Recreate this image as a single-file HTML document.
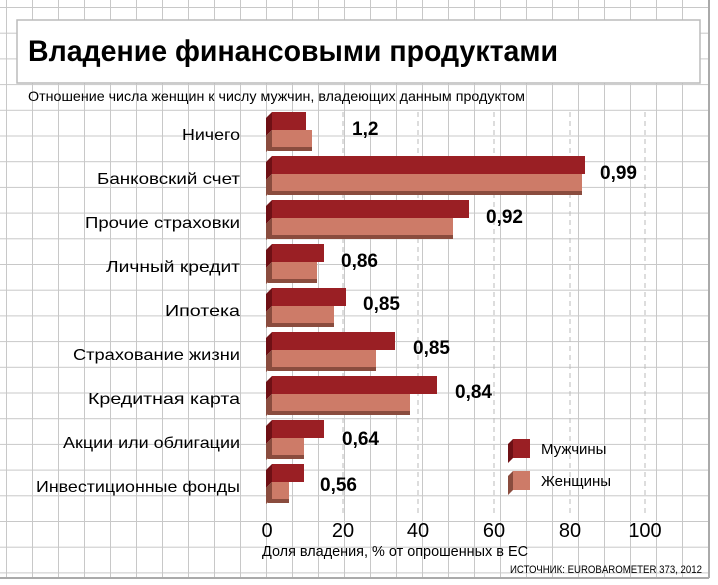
<!DOCTYPE html>
<html><head><meta charset="utf-8"><style>
body{margin:0;background:#fff}
svg{display:block}
</style></head><body>
<svg width="718" height="585" viewBox="0 0 718 585" xmlns="http://www.w3.org/2000/svg" font-family="Liberation Sans, sans-serif">
<defs>
<pattern id="g" x="6" y="7" width="26" height="25.7" patternUnits="userSpaceOnUse">
<path d="M0 0V25.7M0 0H26" stroke="#c8c8c8" stroke-width="2" fill="none"/>
</pattern>
<g id="mside"><polygon points="266,5 272,-1 272,17 266,23" fill="#6e1015"/></g>
<g id="wside"><polygon points="266,23 272,17 272,34 266,39" fill="#8a4c3e"/></g>
</defs>
<rect x="0" y="0" width="709" height="578" fill="url(#g)"/>
<line x1="709" y1="0" x2="709" y2="578" stroke="#aaa" stroke-width="2"/>
<line x1="0" y1="578" x2="709" y2="578" stroke="#aaa" stroke-width="2"/>
<rect x="17" y="20" width="683" height="63" fill="#fff" stroke="#bbb" stroke-width="1.5"/>
<text x="28" y="61" font-size="30" font-weight="bold" textLength="530" lengthAdjust="spacingAndGlyphs">Владение финансовыми продуктами</text>
<text x="28" y="101" font-size="14" textLength="497" lengthAdjust="spacingAndGlyphs">Отношение числа женщин к числу мужчин, владеющих данным продуктом</text>
<g stroke="#bbb" stroke-width="1" stroke-dasharray="5,4">
<line x1="343" y1="112" x2="343" y2="515"/><line x1="418" y1="112" x2="418" y2="515"/>
<line x1="494" y1="112" x2="494" y2="515"/><line x1="570" y1="112" x2="570" y2="515"/>
<line x1="645" y1="112" x2="645" y2="515"/>
</g>
<g>
<!-- row template: women shadow, women, men, sides -->
<g transform="translate(0,113)">
<rect x="268" y="33" width="44" height="5" fill="#8a4c3e"/><rect x="272" y="17" width="40" height="17" fill="#cd7b68"/>
<rect x="272" y="-1" width="34" height="18" fill="#9a1f24"/><use href="#mside"/><use href="#wside"/></g>
<g transform="translate(0,157)">
<rect x="268" y="33" width="314" height="5" fill="#8a4c3e"/><rect x="272" y="17" width="310" height="17" fill="#cd7b68"/>
<rect x="272" y="-1" width="313" height="18" fill="#9a1f24"/><use href="#mside"/><use href="#wside"/></g>
<g transform="translate(0,201)">
<rect x="268" y="33" width="185" height="5" fill="#8a4c3e"/><rect x="272" y="17" width="181" height="17" fill="#cd7b68"/>
<rect x="272" y="-1" width="197" height="18" fill="#9a1f24"/><use href="#mside"/><use href="#wside"/></g>
<g transform="translate(0,245)">
<rect x="268" y="33" width="49" height="5" fill="#8a4c3e"/><rect x="272" y="17" width="45" height="17" fill="#cd7b68"/>
<rect x="272" y="-1" width="52" height="18" fill="#9a1f24"/><use href="#mside"/><use href="#wside"/></g>
<g transform="translate(0,289)">
<rect x="268" y="33" width="66" height="5" fill="#8a4c3e"/><rect x="272" y="17" width="62" height="17" fill="#cd7b68"/>
<rect x="272" y="-1" width="74" height="18" fill="#9a1f24"/><use href="#mside"/><use href="#wside"/></g>
<g transform="translate(0,333)">
<rect x="268" y="33" width="108" height="5" fill="#8a4c3e"/><rect x="272" y="17" width="104" height="17" fill="#cd7b68"/>
<rect x="272" y="-1" width="123" height="18" fill="#9a1f24"/><use href="#mside"/><use href="#wside"/></g>
<g transform="translate(0,377)">
<rect x="268" y="33" width="142" height="5" fill="#8a4c3e"/><rect x="272" y="17" width="138" height="17" fill="#cd7b68"/>
<rect x="272" y="-1" width="165" height="18" fill="#9a1f24"/><use href="#mside"/><use href="#wside"/></g>
<g transform="translate(0,421)">
<rect x="268" y="33" width="36" height="5" fill="#8a4c3e"/><rect x="272" y="17" width="32" height="17" fill="#cd7b68"/>
<rect x="272" y="-1" width="52" height="18" fill="#9a1f24"/><use href="#mside"/><use href="#wside"/></g>
<g transform="translate(0,465)">
<rect x="268" y="33" width="21" height="5" fill="#8a4c3e"/><rect x="272" y="17" width="17" height="17" fill="#cd7b68"/>
<rect x="272" y="-1" width="32" height="18" fill="#9a1f24"/><use href="#mside"/><use href="#wside"/></g>
</g>
<g font-size="16" text-anchor="end">
<text x="240" y="140" textLength="58" lengthAdjust="spacingAndGlyphs">Ничего</text>
<text x="240" y="184" textLength="143" lengthAdjust="spacingAndGlyphs">Банковский счет</text>
<text x="240" y="228" textLength="155" lengthAdjust="spacingAndGlyphs">Прочие страховки</text>
<text x="240" y="272" textLength="134" lengthAdjust="spacingAndGlyphs">Личный кредит</text>
<text x="240" y="316" textLength="75" lengthAdjust="spacingAndGlyphs">Ипотека</text>
<text x="240" y="360" textLength="167" lengthAdjust="spacingAndGlyphs">Страхование жизни</text>
<text x="240" y="404" textLength="152" lengthAdjust="spacingAndGlyphs">Кредитная карта</text>
<text x="240" y="448" textLength="177" lengthAdjust="spacingAndGlyphs">Акции или облигации</text>
<text x="240" y="492" textLength="204" lengthAdjust="spacingAndGlyphs">Инвестиционные фонды</text>
</g>
<g font-size="19" font-weight="bold">
<text x="352" y="135">1,2</text>
<text x="600" y="179">0,99</text>
<text x="486" y="223">0,92</text>
<text x="341" y="267">0,86</text>
<text x="363" y="310">0,85</text>
<text x="413" y="354">0,85</text>
<text x="455" y="398">0,84</text>
<text x="342" y="445">0,64</text>
<text x="320" y="491">0,56</text>
</g>
<g font-size="20" text-anchor="middle">
<text x="267" y="537">0</text><text x="343" y="537">20</text><text x="418" y="537">40</text>
<text x="494" y="537">60</text><text x="570" y="537">80</text><text x="645" y="537">100</text>
</g>
<text x="262" y="556" font-size="15" textLength="266" lengthAdjust="spacingAndGlyphs">Доля владения, % от опрошенных в ЕС</text>
<text x="702" y="573" font-size="11" text-anchor="end" textLength="192" lengthAdjust="spacingAndGlyphs">ИСТОЧНИК:  EUROBAROMETER 373, 2012</text>
<g>
<polygon points="508,444 513,439 530,439 530,458 513,458 508,463" fill="#6e1015"/>
<rect x="513" y="439" width="17" height="19" fill="#9a1f24"/>
<polygon points="508,476 513,471 530,471 530,490 513,490 508,495" fill="#8a4c3e"/>
<rect x="513" y="471" width="17" height="19" fill="#cd7b68"/>
<text x="541" y="454" font-size="15">Мужчины</text>
<text x="541" y="486" font-size="15">Женщины</text>
</g>
</svg>
</body></html>
